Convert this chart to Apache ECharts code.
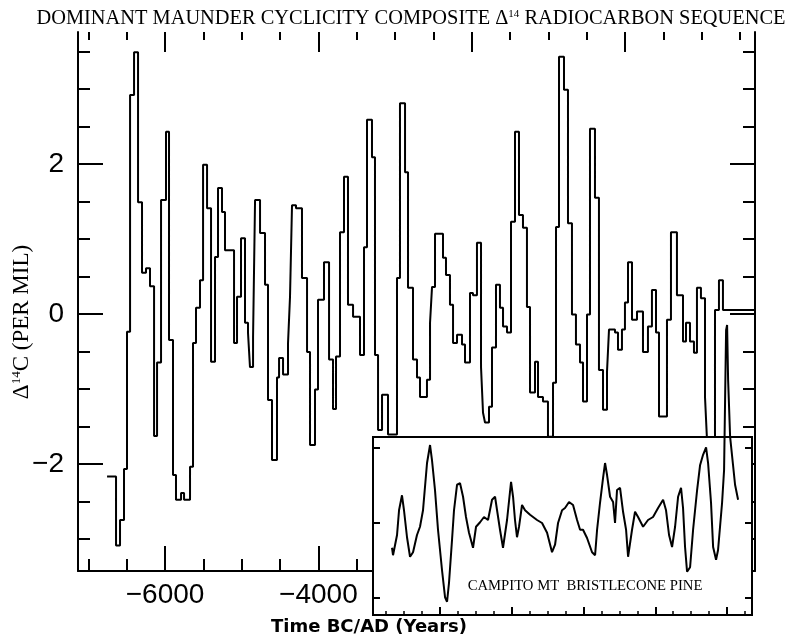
<!DOCTYPE html>
<html>
<head>
<meta charset="utf-8">
<title>Dominant Maunder cyclicity composite</title>
<script src="https://cdn.jsdelivr.net/npm/echarts@6/dist/echarts.min.js"></script>
<style>
html, body { margin: 0; padding: 0; background: #fff; }
#main { width: 804px; height: 636px; }
</style>
</head>
<body>
<div id="main"></div>
<script>
// composite sequence: year where each step starts, and its level (per mil)
var stepYears = [
  -6756, -6639, -6587, -6535, -6496, -6456, -6404, -6352, -6300, -6248,
  -6196, -6143, -6104, -6052, -5987, -5948, -5896, -5857, -5791, -5752,
  -5674, -5635, -5596, -5544, -5504, -5452, -5400, -5348, -5309, -5257,
  -5218, -5100, -5061, -5009, -4957, -4918, -4892, -4852, -4826, -4761,
  -4696, -4657, -4605, -4540, -4513, -4461, -4396, -4370, -4344, -4292,
  -4214, -4148, -4109, -4044, -4005, -3927, -3861, -3809, -3770, -3718,
  -3666, -3614, -3548, -3457, -3405, -3366, -3301, -3262, -3222, -3170,
  -3092, -2975, -2936, -2870, -2831, -2766, -2714, -2675, -2584, -2544,
  -2518, -2479, -2375, -2336, -2284, -2244, -2192, -2127, -2088, -2023,
  -1984, -1932, -1879, -1853, -1827, -1775, -1736, -1684, -1632, -1592,
  -1540, -1488, -1436, -1384, -1332, -1280, -1240, -1175, -1136, -1071,
  -1006, -940, -901, -862, -797, -745, -693, -641, -588, -549,
  -497, -458, -393, -341, -288, -236, -210, -132, -93, -41,
  -2, 38, 90, 155, 233, 298, 350, 403, 442, 546,
  598, 676, 755, 794, 846, 898, 937, 989, 1042, 1068,
  1172, 1224, 1276, 1694
];
var stepValues = [
  -2.17, -3.09, -2.75, -2.07, -0.24, 2.92, 3.49, 1.49, 0.55, 0.61,
  0.37, -1.63, -0.65, 1.52, 2.43, -0.35, -2.15, -2.48, -2.39, -2.48,
  -2.04, -0.39, 0.08, 0.45, 1.99, 1.41, -0.64, 0.76, 1.68, 1.36,
  0.85, -0.39, 0.23, 1.01, -0.12, -0.25, -0.71, -0.31, 1.52, 1.08,
  0.39, -1.15, -1.95, -0.85, -0.59, -0.81, -0.39, 0.23, 1.45, 1.41,
  0.48, -0.51, -1.75, -1.01, 0.19, 0.69, -0.61, -1.27, -0.57, 1.09,
  1.83, 0.12, -0.04, -0.55, 0.89, 2.59, 2.09, -0.55, -1.55, -1.08,
  -1.61, 0.48, 2.81, 1.89, 0.35, -0.61, -0.85, -1.11, -0.88, -0.12,
  0.36, 1.07, 0.75, 0.52, 0.12, -0.39, -0.28, -0.41, -0.65, 0.28,
  0.25, 0.95, -0.71, -1.32, -1.45, -1.24, -0.45, 0.39, 0.08, -0.17,
  -0.25, 1.23, 2.43, 1.32, 1.15, 0.09, -1.05, -0.64, -1.11, -1.17,
  -1.64, -0.92, 1.16, 3.43, 2.99, 1.21, -0.01, -0.41, -0.65, -1.17,
  -0.01, 2.47, 1.55, -0.75, -1.28, -0.77, -0.21, -0.25, -0.48, -0.21,
  0.15, 0.69, -0.08, 0.03, -0.51, -0.17, 0.32, -0.25, -1.37, -0.08,
  1.09, 0.25, -0.37, -0.12, -0.37, -0.52, 0.35, 0.21, -1.11, -1.68,
  0.05, 0.45, 0.05, 0.05
];

// Campito Mt bristlecone pine curve (inset)
var insetYears = [
  -3669, -3655, -3599, -3571, -3530, -3502, -3460, -3418, -3376, -3321,
  -3279, -3237, -3181, -3139, -3112, -3070, -3028, -2972, -2930, -2902,
  -2875, -2833, -2805, -2763, -2721, -2679, -2638, -2596, -2540, -2498,
  -2442, -2387, -2331, -2275, -2233, -2205, -2164, -2122, -2066, -2010,
  -1982, -1955, -1927, -1899, -1857, -1815, -1745, -1648, -1578, -1508,
  -1439, -1397, -1355, -1299, -1258, -1202, -1146, -1090, -1048, -1007,
  -951, -881, -839, -811, -770, -728, -700, -672, -630, -588,
  -561, -533, -491, -449, -407, -379, -324, -282, -240, -170,
  -101, -31, 39, 109, 150, 192, 234, 276, 318, 359,
  387, 415, 443, 485, 527, 583, 624, 666, 708, 736,
  777, 806, 847, 875, 931, 959, 973, 987, 1001, 1015,
  1043, 1084, 1112, 1154
];
var insetValues = [
  -0.33, -0.43, -0.16, 0.17, 0.37, 0.17, -0.19, -0.45, -0.39, -0.16,
  -0.05, 0.17, 0.80, 1.04, 0.84, 0.44, -0.09, -0.63, -0.99, -1.05,
  -0.80, -0.23, 0.17, 0.51, 0.53, 0.35, 0.08, -0.13, -0.33, -0.05,
  0.01, 0.08, 0.04, 0.31, 0.35, 0.17, -0.09, -0.33, 0.04, 0.55,
  0.35, 0.04, -0.19, -0.05, 0.24, 0.17, 0.11, 0.04, 0.00, -0.13,
  -0.39, -0.29, 0.00, 0.17, 0.20, 0.28, 0.24, 0.04, -0.09, -0.09,
  -0.20, -0.39, -0.43, -0.09, 0.27, 0.60, 0.80, 0.64, 0.35, 0.28,
  0.00, 0.44, 0.47, 0.15, -0.09, -0.45, -0.09, 0.15, 0.08, -0.05,
  0.04, 0.08, 0.20, 0.31, 0.17, -0.16, -0.32, -0.05, 0.35, 0.47,
  0.20, -0.32, -0.65, -0.59, -0.09, 0.44, 0.77, 0.91, 1.01, 0.80,
  0.27, -0.32, -0.49, -0.36, 0.27, 0.71, 1.64, 2.57, 2.64, 1.91,
  1.15, 0.77, 0.51, 0.31
];

// ticks and labels
var xMinorTicks = [-7000, -6500, -6000, -5500, -5000, -4500, -4000, -3500, -3000,
  -2500, -2000, -1500, -1000, -500, 0, 500, 1000, 1500];
var xMajorTicks = [-6000, -4000, -2000, 0];
var xLabelYears = [-6000, -4000, -2000, 0];
var yMinorTicks = [-3, -2.5, -2, -1.5, -1, -0.5, 0, 0.5, 1, 1.5, 2, 2.5, 3, 3.5];
var yMajorTicks = [-2, 0, 2];
var insetXMajor = [-3000, -2000, -1000, 0, 1000];
var insetXMinor = [-3750, -3500, -3250, -2750, -2500, -2250, -1750, -1500, -1250,
  -750, -500, -250, 250, 500, 750, 1250];
var insetYTicks = [-1, 0, 1];

var XMIN = -7135, XMAX = 1694, YMIN = -3.43, YMAX = 3.76;
var IXMIN = -3934, IXMAX = 1348, IYMIN = -1.227, IYMAX = 1.147;

var chart = echarts.init(document.getElementById('main'));

function minus(v) {
    return v < 0 ? '\u2212' + Math.abs(v) : String(v);
}

function tickAxis(opt) {
    var a = {
        type: 'value',
        gridIndex: opt.grid,
        position: opt.pos,
        min: opt.min,
        max: opt.max,
        z: opt.z || 0,
        splitLine: { show: false },
        axisLine: { show: !!opt.line, onZero: false, lineStyle: { color: '#000', width: 2 } },
        axisTick: {
            show: true,
            inside: true,
            length: opt.len,
            customValues: opt.ticks,
            lineStyle: { color: '#000', width: opt.tw || 2 }
        },
        axisLabel: { show: false }
    };
    if (opt.labels) {
        a.axisLabel = {
            show: true,
            customValues: opt.labels,
            formatter: minus,
            color: '#000',
            fontFamily: 'Liberation Sans',
            fontSize: 28,
            margin: opt.margin
        };
    }
    return a;
}

var option = {
    backgroundColor: '#fff',
    animation: false,
    grid: [
        { left: 78, right: 49, top: 32, bottom: 65, show: false },
        {
            left: 373, right: 52, top: 437, bottom: 21, show: true, z: 20,
            backgroundColor: '#fff', borderColor: '#000', borderWidth: 2
        }
    ],
    xAxis: [
        tickAxis({ grid: 0, pos: 'bottom', min: XMIN, max: XMAX, len: 25, ticks: xMajorTicks, line: true, labels: xLabelYears, margin: 10 }),
        tickAxis({ grid: 0, pos: 'bottom', min: XMIN, max: XMAX, len: 12, ticks: xMinorTicks }),
        tickAxis({ grid: 0, pos: 'top', min: XMIN, max: XMAX, len: 20, ticks: xMajorTicks }),
        tickAxis({ grid: 0, pos: 'top', min: XMIN, max: XMAX, len: 8, ticks: xMinorTicks }),
        tickAxis({ grid: 1, pos: 'bottom', min: IXMIN, max: IXMAX, len: 8, ticks: insetXMajor, z: 21 }),
        tickAxis({ grid: 1, pos: 'bottom', min: IXMIN, max: IXMAX, len: 4, ticks: insetXMinor, tw: 1.5, z: 21 })
    ],
    yAxis: [
        tickAxis({ grid: 0, pos: 'left', min: YMIN, max: YMAX, len: 25, ticks: yMajorTicks, line: true, labels: yMajorTicks, margin: 14 }),
        tickAxis({ grid: 0, pos: 'left', min: YMIN, max: YMAX, len: 12, ticks: yMinorTicks }),
        tickAxis({ grid: 0, pos: 'right', min: YMIN, max: YMAX, len: 25, ticks: yMajorTicks, line: true }),
        tickAxis({ grid: 0, pos: 'right', min: YMIN, max: YMAX, len: 12, ticks: yMinorTicks }),
        tickAxis({ grid: 1, pos: 'left', min: IYMIN, max: IYMAX, len: 7, ticks: insetYTicks, z: 21 }),
        tickAxis({ grid: 1, pos: 'right', min: IYMIN, max: IYMAX, len: 7, ticks: insetYTicks, z: 21 })
    ],
    series: [
        {
            name: 'composite',
            type: 'line',
            xAxisIndex: 0,
            yAxisIndex: 0,
            step: 'end',
            symbol: 'none',
            lineStyle: { color: '#000', width: 2 },
            data: stepYears.map(function (y, i) { return [y, stepValues[i]]; })
        },
        {
            name: 'Campito Mt',
            type: 'line',
            xAxisIndex: 4,
            yAxisIndex: 4,
            z: 22,
            clip: false,
            symbol: 'none',
            lineStyle: { color: '#000', width: 2 },
            data: insetYears.map(function (y, i) { return [y, insetValues[i]]; })
        }
    ],
    graphic: [
        {
            type: 'text', x: 411, y: 19, z: 50,
            style: {
                text: '{t|DOMINANT MAUNDER CYCLICITY COMPOSITE \u0394}{s|14}{t| RADIOCARBON SEQUENCE}',
                align: 'center', verticalAlign: 'middle',
                textAlign: 'center', textVerticalAlign: 'middle',
                fill: '#000',
                rich: {
                    t: { fontFamily: 'Liberation Serif', fontSize: 20.4, fill: '#000' },
                    s: { fontFamily: 'Liberation Serif', fontSize: 11, fill: '#000', verticalAlign: 'top' }
                }
            }
        },
        {
            type: 'text', x: 22, y: 322, rotation: Math.PI / 2, z: 50,
            style: {
                text: '{t|\u0394}{s|14}{t|C (PER MIL)}',
                align: 'center', verticalAlign: 'middle',
                textAlign: 'center', textVerticalAlign: 'middle',
                fill: '#000',
                rich: {
                    t: { fontFamily: 'Liberation Serif', fontSize: 23, fill: '#000' },
                    s: { fontFamily: 'Liberation Serif', fontSize: 13, fill: '#000', verticalAlign: 'top' }
                }
            }
        },
        {
            type: 'text', x: 369, y: 627, z: 50,
            style: {
                text: 'Time BC/AD (Years)',
                align: 'center', verticalAlign: 'middle',
                textAlign: 'center', textVerticalAlign: 'middle',
                fill: '#000',
                font: 'bold 18px "DejaVu Sans"'
            }
        },
        {
            type: 'text', x: 585, y: 586, z: 50,
            style: {
                text: 'CAMPITO MT  BRISTLECONE PINE',
                align: 'center', verticalAlign: 'middle',
                textAlign: 'center', textVerticalAlign: 'middle',
                fill: '#000',
                font: '14.7px "Liberation Serif"'
            }
        }
    ]
};

chart.setOption(option);
</script>
</body>
</html>
